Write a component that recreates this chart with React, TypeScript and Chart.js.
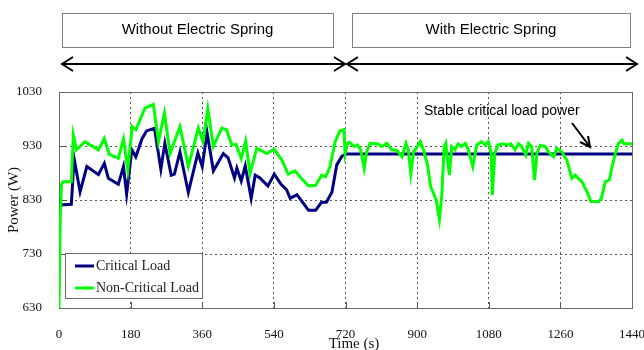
import { useEffect, useRef } from "react";
import { Chart, registerables } from "chart.js";

Chart.register(...registerables);

// ---- data ----
const seriesLabels = ["Critical Load", "Non-Critical Load"];
const bannerLabels = ["Without Electric Spring", "With Electric Spring"];
const annotationText = "Stable critical load power";
const xAxisTitle = "Time (s)";
const yAxisTitle = "Power (W)";

const xTicks = [0, 180, 360, 540, 720, 900, 1080, 1260, 1440];
const yTicks = [630, 730, 830, 930, 1030];

const criticalTime = [
  0, 3, 31, 38, 53, 70, 99, 114, 124, 149, 162, 170, 183, 193, 209, 220, 240,
  256, 266, 282, 290, 304, 325, 349, 360, 372, 388, 413, 425, 441, 447, 458,
  468, 483, 493, 505, 525, 541, 558, 572, 581, 598, 627, 645, 660, 672, 686,
  698, 711, 722, 900, 1080, 1260, 1440,
];
const criticalPower = [
  833, 821, 822, 907, 845, 892, 877, 898, 870, 859, 892, 841, 923, 910, 944,
  958, 963, 887, 935, 876, 878, 919, 844, 917, 892, 955, 884, 916, 908, 871,
  889, 865, 893, 833, 876, 871, 856, 878, 859, 849, 833, 840, 811, 811, 826,
  826, 845, 895, 911, 915, 915, 915, 915, 915,
];

const nonCriticalTime = [
  0, 3, 6, 10, 31, 36, 44, 65, 99, 114, 126, 149, 162, 173, 184, 193, 216, 237,
  250, 265, 279, 304, 325, 350, 362, 374, 388, 409, 421, 434, 445, 458, 469,
  480, 497, 522, 541, 560, 576, 593, 608, 627, 645, 660, 670, 681, 694, 706,
  716, 719, 725, 730, 742, 750, 758, 767, 773, 782, 800, 811, 824, 836, 849,
  862, 872, 878, 884, 891, 897, 908, 916, 926, 934, 948, 956, 962, 968, 972,
  981, 987, 995, 1003, 1011, 1021, 1029, 1040, 1050, 1062, 1071, 1079, 1086,
  1089, 1095, 1103, 1115, 1128, 1136, 1146, 1155, 1163, 1173, 1180, 1188,
  1195, 1201, 1209, 1222, 1230, 1243, 1251, 1264, 1276, 1289, 1297, 1314,
  1327, 1337, 1356, 1363, 1373, 1383, 1389, 1398, 1406, 1415, 1420, 1440,
];
const nonCriticalPower = [
  630, 790, 858, 864, 864, 950, 923, 938, 923, 944, 915, 907, 943, 886, 966,
  960, 1000, 1007, 938, 991, 916, 966, 892, 963, 938, 999, 929, 963, 960, 932,
  933, 907, 939, 879, 926, 916, 924, 904, 878, 884, 871, 856, 857, 876, 873,
  892, 938, 958, 960, 916, 935, 937, 929, 932, 923, 889, 919, 935, 934, 929,
  935, 923, 922, 910, 935, 923, 879, 919, 925, 938, 923, 895, 855, 830, 794,
  839, 929, 935, 876, 929, 923, 934, 929, 935, 923, 892, 932, 938, 932, 938,
  916, 839, 916, 932, 934, 932, 934, 923, 934, 929, 913, 935, 929, 867, 916,
  931, 929, 919, 910, 926, 919, 904, 870, 876, 864, 845, 827, 827, 833, 864,
  867, 889, 916, 935, 941, 934, 934,
];

const criticalColor = "#000080";
const nonCriticalColor = "#00ff00";

function pairs(xs: number[], ys: number[]) {
  return xs.map((x, i) => ({ x, y: ys[i] }));
}

function drawArrowHead(
  ctx: CanvasRenderingContext2D,
  x: number,
  y: number,
  angle: number,
  len: number,
  half: number
) {
  const ca = Math.cos(angle);
  const sa = Math.sin(angle);
  const bx = x - ca * len;
  const by = y - sa * len;
  ctx.beginPath();
  ctx.moveTo(bx - sa * half, by + ca * half);
  ctx.lineTo(x, y);
  ctx.lineTo(bx + sa * half, by - ca * half);
  ctx.stroke();
}

const decorPlugin = {
  id: "decor",
  beforeDatasetsDraw(chart: any) {
    const { ctx, chartArea: a, scales } = chart;
    ctx.save();
    ctx.strokeStyle = "#555";
    ctx.lineWidth = 1;
    ctx.setLineDash([]);
    // inward tick marks
    ctx.beginPath();
    xTicks.forEach((t) => {
      const px = Math.round(scales.x.getPixelForValue(t)) + 0.5;
      ctx.moveTo(px, a.bottom);
      ctx.lineTo(px, a.bottom - 6);
    });
    yTicks.forEach((v) => {
      const py = Math.round(scales.y.getPixelForValue(v)) + 0.5;
      ctx.moveTo(a.left, py);
      ctx.lineTo(a.left + 6, py);
    });
    ctx.stroke();
    // frame
    ctx.strokeStyle = "#666";
    ctx.strokeRect(
      Math.round(a.left) + 0.5,
      Math.round(a.top) + 0.5,
      Math.round(a.right - a.left),
      Math.round(a.bottom - a.top)
    );
    ctx.restore();
  },
  afterDraw(chart: any) {
    const { ctx, chartArea: a } = chart;
    ctx.save();
    ctx.setLineDash([]);

    // banners
    const boxes = [
      { x: 62, w: 271 },
      { x: 352, w: 278 },
    ];
    ctx.strokeStyle = "#7f7f7f";
    ctx.lineWidth = 1;
    ctx.fillStyle = "#000";
    ctx.font = "15px 'Liberation Sans', Arial, sans-serif";
    ctx.textAlign = "center";
    ctx.textBaseline = "middle";
    boxes.forEach((b, i) => {
      ctx.strokeRect(b.x + 0.5, 13.5, b.w, 34);
      ctx.fillText(bannerLabels[i], b.x + b.w / 2, 30);
    });

    // double arrows
    ctx.strokeStyle = "#000";
    ctx.lineWidth = 2;
    const arrows = [
      [62, 345],
      [347, 637],
    ];
    arrows.forEach(([x1, x2]) => {
      ctx.beginPath();
      ctx.moveTo(x1, 64);
      ctx.lineTo(x2, 64);
      ctx.stroke();
      drawArrowHead(ctx, x1, 64, Math.PI, 11, 7);
      drawArrowHead(ctx, x2, 64, 0, 11, 7);
    });

    // annotation
    ctx.font = "14px 'Liberation Sans', Arial, sans-serif";
    ctx.textAlign = "left";
    ctx.fillText(annotationText, 424, 111);
    ctx.beginPath();
    ctx.moveTo(572, 123);
    ctx.lineTo(590, 147);
    ctx.stroke();
    drawArrowHead(ctx, 590, 147, Math.atan2(24, 18), 10, 5);

    // axis titles
    ctx.fillStyle = "#111";
    ctx.font = "15px 'Liberation Serif', 'Times New Roman', serif";
    ctx.textAlign = "center";
    ctx.textBaseline = "middle";
    ctx.fillText(xAxisTitle, 354, 344);
    ctx.save();
    ctx.translate(14, (a.top + a.bottom) / 2);
    ctx.rotate(-Math.PI / 2);
    ctx.fillText(yAxisTitle, 0, 0);
    ctx.restore();

    // legend
    const lx = 65.5;
    const ly = 253.5;
    ctx.fillStyle = "#fff";
    ctx.fillRect(lx, ly, 137, 45);
    ctx.strokeStyle = "#666";
    ctx.lineWidth = 1;
    ctx.strokeRect(lx, ly, 137, 45);
    const colors = [criticalColor, nonCriticalColor];
    ctx.font = "14px 'Liberation Serif', 'Times New Roman', serif";
    ctx.textAlign = "left";
    ctx.textBaseline = "middle";
    seriesLabels.forEach((label, i) => {
      const y = 266 + i * 22;
      ctx.strokeStyle = colors[i];
      ctx.lineWidth = 3;
      ctx.beginPath();
      ctx.moveTo(75, y);
      ctx.lineTo(94, y);
      ctx.stroke();
      ctx.fillStyle = "#222";
      ctx.fillText(label, 96, y);
    });
    ctx.restore();
  },
};

export default function App() {
  const canvasRef = useRef<HTMLCanvasElement | null>(null);

  useEffect(() => {
    const canvas = canvasRef.current;
    if (!canvas) return;
    const tickFont = { family: "'Liberation Serif', 'Times New Roman', serif", size: 13 };
    const chart = new Chart(canvas, {
      type: "line",
      data: {
        datasets: [
          {
            label: seriesLabels[0],
            data: pairs(criticalTime, criticalPower),
            borderColor: criticalColor,
            backgroundColor: criticalColor,
            borderWidth: 3,
            pointRadius: 0,
            tension: 0,
            order: 2,
          },
          {
            label: seriesLabels[1],
            data: pairs(nonCriticalTime, nonCriticalPower),
            borderColor: nonCriticalColor,
            backgroundColor: nonCriticalColor,
            borderWidth: 3,
            pointRadius: 0,
            tension: 0,
            order: 1,
          },
        ],
      },
      options: {
        responsive: false,
        animation: false,
        events: [],
        layout: { padding: { top: 92, right: 12, left: 0, bottom: 0 } },
        plugins: {
          legend: { display: false },
          tooltip: { enabled: false },
        },
        scales: {
          x: {
            type: "linear",
            min: xTicks[0],
            max: xTicks[xTicks.length - 1],
            afterBuildTicks: (s: any) => {
              s.ticks = xTicks.map((v) => ({ value: v }));
            },
            afterFit: (s: any) => {
              s.height = 42;
              s.paddingLeft = 0;
              s.paddingRight = 0;
            },
            ticks: {
              font: tickFont,
              color: "#111",
              padding: 19,
              maxRotation: 0,
              autoSkip: false,
              callback: (v: any) => String(v),
            },
            grid: {
              color: "#555",
              lineWidth: 1,
              drawTicks: false,
              borderDash: [2, 3],
            } as any,
            border: { display: true, color: "#666", width: 1, dash: [2, 3] } as any,
          },
          y: {
            type: "linear",
            min: yTicks[0],
            max: yTicks[yTicks.length - 1],
            afterBuildTicks: (s: any) => {
              s.ticks = yTicks.map((v) => ({ value: v }));
            },
            afterFit: (s: any) => {
              s.width = 59;
              s.paddingTop = 0;
              s.paddingBottom = 0;
            },
            ticks: {
              font: tickFont,
              color: "#111",
              padding: 17,
              autoSkip: false,
              callback: (v: any) => String(v),
            },
            grid: {
              color: "#555",
              lineWidth: 1,
              drawTicks: false,
              borderDash: [2, 3],
            } as any,
            border: { display: true, color: "#666", width: 1, dash: [2, 3] } as any,
          },
        },
      },
      plugins: [decorPlugin],
    } as any);
    return () => chart.destroy();
  }, []);

  return (
    <div
      style={{
        position: "fixed",
        left: 0,
        top: 0,
        width: 644,
        height: 350,
        background: "#fff",
      }}
    >
      <canvas ref={canvasRef} width={644} height={350} style={{ width: 644, height: 350 }} />
    </div>
  );
}
